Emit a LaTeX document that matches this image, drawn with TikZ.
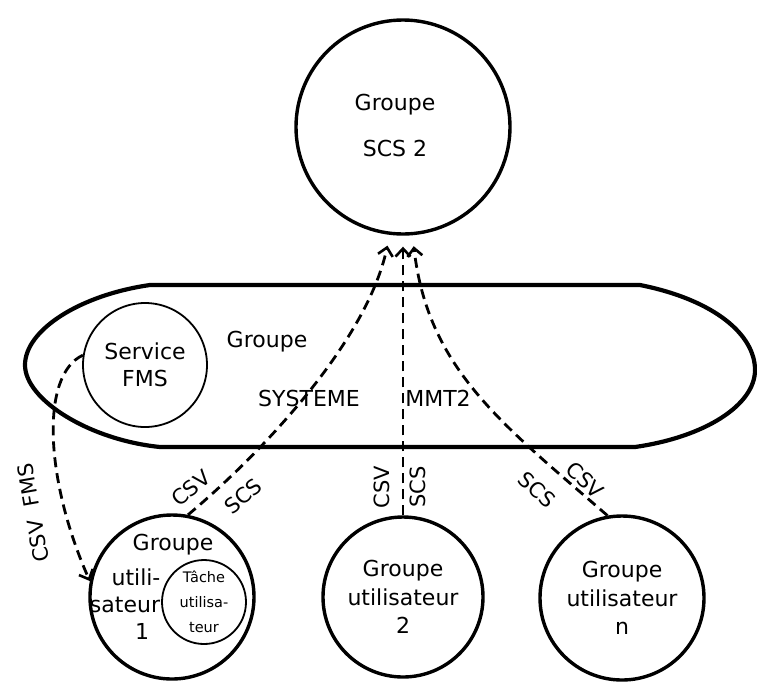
\documentclass[tikz,border=0pt]{standalone}
\usepackage{fontspec}
\setmainfont{DejaVu Sans}
\usetikzlibrary{arrows.meta}

\tikzset{
  grp/.style={circle,draw,line width=3.4pt,inner sep=0pt,align=center,font=\fontsize{22}{28.5}\selectfont},
  sub/.style={circle,draw,line width=1.8pt,inner sep=0pt,align=center},
  lien/.style={line width=2.8pt,dash pattern=on 10pt off 6pt},
  tip/.style={-{Straight Barb[length=8pt,width=15pt,line width=2.6pt]}},
  lbl/.style={font=\fontsize{21}{24}\selectfont,inner sep=0pt},
  txt/.style={font=\fontsize{22}{26}\selectfont,inner sep=0pt}
}

\begin{document}
\begin{tikzpicture}[x=1pt,y=-1pt]
\useasboundingbox (0,0) rectangle (757,681);

\node[grp,minimum size=214pt] (scs) at (403,127) {};
\node[txt,align=center,font=\fontsize{22}{26}\selectfont] (scst) at (395,125) {Groupe\\[20pt]SCS 2};

\draw[line width=4.2pt] (150,285) -- (640,285)
  .. controls (715,300) and (755,335) .. (755,370)
  .. controls (755,405) and (705,437) .. (635,447)
  -- (160,447)
  .. controls (90,440) and (25,400) .. (25,365)
  .. controls (25,330) and (80,295) .. (150,285) -- cycle;
\node[sub,minimum size=124pt,font=\fontsize{22}{27}\selectfont] (fms) at (145,365) {Service\\FMS};
\node[txt] (sysa) at (267,342) {Groupe};
\node[txt] (sysb) at (309,398) {SYSTEME};
\node[txt] (sysc) at (438,398) {MMT2};

\node[grp,minimum size=164pt] (g1) at (172,597) {};
\node[sub,minimum size=84pt,font=\fontsize{14.5}{25}\selectfont] (tache) at (204,602) {Tâche\\utilisa-\\teur};
\node[txt] (g1a) at (173,545) {Groupe};
\node[txt] (g1b) at (136,577) {utili-};
\node[txt] (g1c) at (125,605) {sateur};
\node[txt] (g1d) at (142,631) {1};
\node[grp,minimum size=160pt] (g2) at (403,597) {Groupe\\utilisateur\\2};
\node[grp,minimum size=164pt] (gn) at (622,598) {Groupe\\utilisateur\\n};

\draw[lien,tip,shorten >=11pt] (g1.79) .. controls (256,458) and (366,345) .. (scs.263);
\draw[lien,tip,shorten >=11pt] (g2.north) -- (scs.south);
\draw[lien,tip,shorten >=11pt] (gn.100) .. controls (502,424) and (428,369) .. (scs.275);
\draw[lien,tip] (fms.171) .. controls (40,375) and (45,480) .. (g1.169);

\node[lbl,rotate=100] (fmsa) at (33,513) {CSV~~FMS};
\node[lbl,rotate=40] (c1a) at (191,488) {CSV};
\node[lbl,rotate=40] (c1b) at (243,496) {SCS};
\node[lbl,rotate=90] (c2a) at (382,487) {CSV};
\node[lbl,rotate=90] (c2b) at (418,487) {SCS};
\node[lbl,rotate=-42] (cna) at (537,490) {SCS};
\node[lbl,rotate=-42] (cnb) at (585,480) {CSV};
\end{tikzpicture}
\end{document}
